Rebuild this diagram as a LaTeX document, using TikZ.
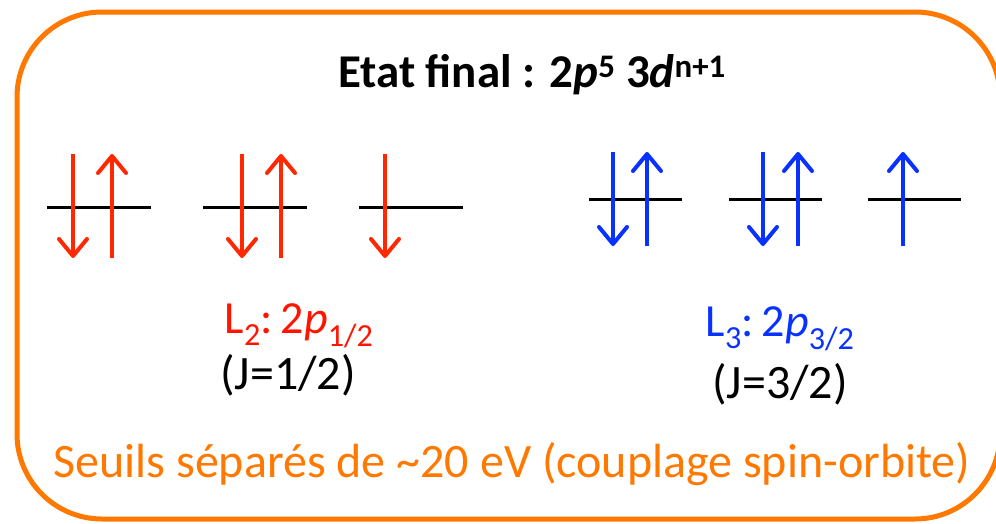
\documentclass[tikz,border=0pt]{standalone}
\usepackage{fontspec}
\setmainfont{Carlito}
\usetikzlibrary{arrows.meta,positioning}
\definecolor{frameorange}{RGB}{255,120,0}
\definecolor{spinred}{RGB}{255,40,0}
\definecolor{labelred}{RGB}{255,20,0}
\definecolor{spinblue}{RGB}{10,50,255}
\begin{document}
\begin{tikzpicture}[x=1pt,y=-1pt,
levelline/.style={black, line width=3pt},
spinarrow/.style={line width=4pt, -{Straight Barb[length=17pt,width=28pt,round]}},
bigtext/.style={inner sep=0pt, font=\fontsize{46}{54}\selectfont},
]
    \useasboundingbox (0,0) rectangle (996,523);
    \draw[frameorange, line width=5pt, rounded corners=85pt] (17,12) rectangle (1000,519);
    \node[bigtext, anchor=base, font=\fontsize{47}{54}\selectfont\bfseries] (title) at (532,87)
        {Etat final : 2\textit{p}\textsuperscript{5} 3\textit{d}\textsuperscript{n+1}};
    % L2 levels
    \draw[levelline] (47,207) -- (151,207);
    \draw[levelline] (203,207) -- (307,207);
    \draw[levelline] (359,207) -- (463,207);
    \draw[spinarrow, spinred] (73,154) -- (73,258);
    \draw[spinarrow, spinred] (112,258) -- (112,154);
    \draw[spinarrow, spinred] (242,154) -- (242,258);
    \draw[spinarrow, spinred] (281,258) -- (281,154);
    \draw[spinarrow, spinred] (385,154) -- (385,258);
    % L3 levels
    \draw[levelline] (589,199) -- (682,199);
    \draw[levelline] (729,199) -- (822,199);
    \draw[levelline] (868,199) -- (961,199);
    \draw[spinarrow, spinblue] (613,152) -- (613,246);
    \draw[spinarrow, spinblue] (647,246) -- (647,152);
    \draw[spinarrow, spinblue] (763,152) -- (763,246);
    \draw[spinarrow, spinblue] (798,246) -- (798,152);
    \draw[spinarrow, spinblue] (903,246) -- (903,152);
    % labels
    \node[bigtext, anchor=base, labelred] (ltwo) at (299,333)
        {L\textsubscript{2}:\,2\textit{p}\textsubscript{1/2}};
    \node[bigtext, anchor=base, font=\fontsize{48}{56}\selectfont] (jhalf) at (288,389) {(J=1/2)};
    \node[bigtext, anchor=base, spinblue] (lthree) at (780,336)
        {L\textsubscript{3}:\,2\textit{p}\textsubscript{3/2}};
    \node[bigtext, anchor=base, font=\fontsize{48}{56}\selectfont] (jthreehalf) at (780,398) {(J=3/2)};
    \node[bigtext, anchor=base, frameorange, font=\fontsize{48}{56}\selectfont] (seuils) at (512,477)
        {Seuils séparés de \char`\~20 eV (couplage spin-orbite)};
\end{tikzpicture}
\end{document}
